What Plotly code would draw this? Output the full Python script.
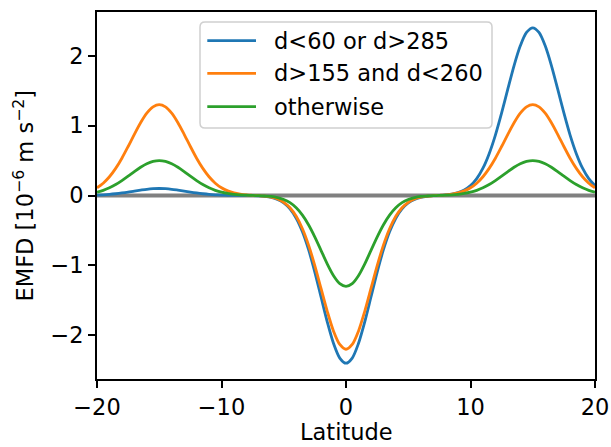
import plotly.graph_objects as go

# Latitude grid (degrees), half-degree spacing
lat = [i * 0.5 for i in range(-40, 41)]

# Eddy momentum flux divergence, units of 1e-6 m s^-2
emfd_lon_a = [0.006, 0.010, 0.016, 0.025, 0.036, 0.049, 0.064, 0.077, 0.089, 0.097,
              0.100, 0.097, 0.089, 0.077, 0.064, 0.049, 0.036, 0.025, 0.016, 0.010,
              0.006, 0.003, 0.002, 0.001, 0.000, -0.002, -0.005, -0.012, -0.027, -0.055,
              -0.105, -0.191, -0.325, -0.519, -0.779, -1.099, -1.456, -1.812, -2.118, -2.326,
              -2.400,
              -2.326, -2.118, -1.812, -1.456, -1.099, -0.779, -0.519, -0.325, -0.191, -0.105,
              -0.055, -0.027, -0.011, -0.003, 0.002, 0.009, 0.020, 0.041, 0.078, 0.141,
              0.242, 0.391, 0.599, 0.865, 1.182, 1.525, 1.860, 2.142, 2.333, 2.400,
              2.333, 2.142, 1.860, 1.525, 1.182, 0.865, 0.599, 0.391, 0.242, 0.141]

emfd_lon_b = [0.110, 0.176, 0.268, 0.388, 0.534, 0.701, 0.876, 1.041, 1.178, 1.268,
              1.300, 1.268, 1.178, 1.041, 0.876, 0.701, 0.534, 0.388, 0.268, 0.176,
              0.110, 0.066, 0.037, 0.020, 0.009, 0.003, -0.003, -0.010, -0.024, -0.050,
              -0.097, -0.175, -0.298, -0.476, -0.714, -1.007, -1.334, -1.661, -1.942, -2.132,
              -2.200,
              -2.132, -1.942, -1.661, -1.334, -1.007, -0.714, -0.476, -0.298, -0.175, -0.097,
              -0.050, -0.024, -0.010, -0.003, 0.003, 0.009, 0.020, 0.037, 0.066, 0.110,
              0.176, 0.268, 0.388, 0.534, 0.701, 0.876, 1.041, 1.178, 1.268, 1.300,
              1.268, 1.178, 1.041, 0.876, 0.701, 0.534, 0.388, 0.268, 0.176, 0.110]

emfd_other = [0.047, 0.074, 0.110, 0.157, 0.214, 0.277, 0.343, 0.404, 0.455, 0.488,
              0.500, 0.488, 0.455, 0.404, 0.343, 0.277, 0.214, 0.157, 0.110, 0.074,
              0.047, 0.029, 0.017, 0.009, 0.005, 0.001, -0.002, -0.007, -0.014, -0.030,
              -0.057, -0.103, -0.176, -0.281, -0.422, -0.595, -0.788, -0.981, -1.147, -1.260,
              -1.300,
              -1.260, -1.147, -0.981, -0.788, -0.595, -0.422, -0.281, -0.176, -0.103, -0.057,
              -0.030, -0.014, -0.007, -0.002, 0.001, 0.005, 0.009, 0.017, 0.029, 0.047,
              0.074, 0.110, 0.157, 0.214, 0.277, 0.343, 0.404, 0.455, 0.488, 0.500,
              0.488, 0.455, 0.404, 0.343, 0.277, 0.214, 0.157, 0.110, 0.074, 0.047]

series_names = ["d<60 or d>285", "d>155 and d<260", "otherwise"]
series_colors = ["#1f77b4", "#ff7f0e", "#2ca02c"]
series_values = [emfd_lon_a, emfd_lon_b, emfd_other]

x_ticks = [-20, -10, 0, 10, 20]
y_ticks = [-2, -1, 0, 1, 2]
x_label = "Latitude"
y_label = "EMFD [10<sup>−6</sup> m s<sup>−2</sup>]"

FONT = "DejaVu Sans"
FSIZE = 22.5
LINE_W = 2.8

# plot area in pixels (within the 611x447 page)
PL, PR, PT, PB = 97, 595, 12, 379
plot_w, plot_h = float(PR - PL), float(PB - PT)


def px_to_paper(px, py):
    return (px - PL) / plot_w, (PB - py) / plot_h


fig = go.Figure()

for name, color, vals in zip(series_names, series_colors, series_values):
    fig.add_trace(go.Scatter(
        x=lat, y=vals, mode="lines", name=name,
        line=dict(color=color, width=LINE_W, shape="spline", smoothing=0.8),
        showlegend=False,
    ))

# zero reference line, drawn beneath the curves
fig.add_shape(type="line", xref="x domain", yref="y", x0=0, x1=1, y0=0, y1=0,
              line=dict(color="gray", width=4), layer="below")


def esc(s):
    return s.replace("&", "&amp;").replace("<", "&lt;").replace(">", "&gt;")


# legend box (upper centre), built in axis-domain coordinates
bx0, by1 = px_to_paper(200, 22)
bx1, by0 = px_to_paper(492, 128)
rx, ry = 5 / plot_w, 5 / plot_h
path = (f"M {bx0+rx},{by0} L {bx1-rx},{by0} Q {bx1},{by0} {bx1},{by0+ry} "
        f"L {bx1},{by1-ry} Q {bx1},{by1} {bx1-rx},{by1} "
        f"L {bx0+rx},{by1} Q {bx0},{by1} {bx0},{by1-ry} "
        f"L {bx0},{by0+ry} Q {bx0},{by0} {bx0+rx},{by0} Z")
fig.add_shape(type="path", path=path, xref="x domain", yref="y domain",
              line=dict(color="#d0d0d0", width=1.5),
              fillcolor="rgba(255,255,255,0.8)", layer="above")

row_px = [40.7, 73.3, 106.7]
hx0, _ = px_to_paper(207.3, 0)
hx1, _ = px_to_paper(256, 0)
tx, _ = px_to_paper(271.5, 0)
for name, color, rpy in zip(series_names, series_colors, row_px):
    _, yy = px_to_paper(0, rpy)
    fig.add_shape(type="line", xref="x domain", yref="y domain",
                  x0=hx0, x1=hx1, y0=yy, y1=yy,
                  line=dict(color=color, width=LINE_W), layer="above")
    fig.add_annotation(xref="x domain", yref="y domain", x=tx, y=yy,
                       text=esc(name), showarrow=False, xanchor="left", yanchor="middle",
                       font=dict(family=FONT, size=FSIZE, color="black"))

# axis titles
xt_x, xt_y = px_to_paper(346, 432)
fig.add_annotation(xref="paper", yref="paper", x=xt_x, y=xt_y, text=x_label,
                   showarrow=False, xanchor="center", yanchor="middle", borderpad=0,
                   font=dict(family=FONT, size=FSIZE, color="black"))
yt_x, yt_y = px_to_paper(23, 195.5)
fig.add_annotation(xref="paper", yref="paper", x=yt_x, y=yt_y, text=y_label,
                   textangle=-90, showarrow=False, xanchor="center", yanchor="middle",
                   font=dict(family=FONT, size=FSIZE, color="black"))

axis_common = dict(
    showline=True, linecolor="black", linewidth=1.6, mirror=True,
    ticks="outside", ticklen=7, tickwidth=1.6, tickcolor="black",
    showgrid=False, zeroline=False, automargin=False,
    tickfont=dict(family=FONT, size=FSIZE, color="black"),
)

fig.update_xaxes(range=[-20, 20], tickvals=x_ticks, **axis_common)
fig.update_yaxes(range=[-2.626, 2.626], tickvals=y_ticks, **axis_common)

fig.update_layout(
    width=611, height=447,
    margin=dict(l=PL, r=611 - PR, t=PT, b=447 - PB),
    paper_bgcolor="white", plot_bgcolor="white",
    font=dict(family=FONT, size=FSIZE, color="black"),
)

fig.write_html("out.html")
